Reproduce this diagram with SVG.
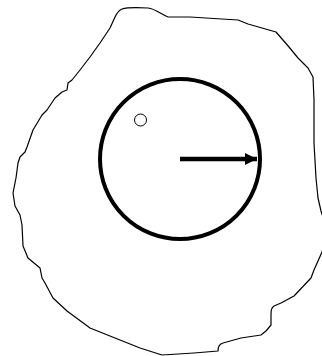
<svg xmlns="http://www.w3.org/2000/svg" width="322" height="356" viewBox="0 0 322 356">
  <style>
    .blob { fill: none; stroke: #000; stroke-width: 1.2; stroke-linejoin: round; }
    .ring { fill: none; stroke: #000; stroke-width: 4; }
    .dot { fill: #fff; stroke: #000; stroke-width: 1; }
    .arrow { stroke: #000; stroke-width: 4.5; fill: none; }
  </style>
  <defs>
    <marker id="ah" markerWidth="4" markerHeight="4" refX="2.7" refY="2" orient="auto" markerUnits="strokeWidth">
      <path d="M0,0.65 L2.7,2 L0,3.35 Z" fill="#000"/>
    </marker>
  </defs>
  <rect width="322" height="356" fill="#fff"/>
  <g id="region">
    <path class="blob" d="M122,9 C128,7 140,7.5 148,8 C156,9 162,15 168,17 L190,17 L238,20 L248,24 L276,32 L289,47 L298,58 L308,68 L313,77 L314,100 L314,143 L316,178 L318,198 L321,211 L328,232 L322,252 L314,270 L311,278 L294,296 L281,303 L274,306 C271,308 271,311 271,316 L271,325 L266,331 L261,335 L241,338 L223,343 C219,344 218,347 218,351 L194,353 L162,355 L140,348 L110,336 L90,328 L67,311 L53,298 L45,283 L42,278 L40,268 L28,258 L23,246 L22,225 L20,215 L15,206 L13,193 L16,178 L18,163 L20,157 L25,152 L27,147 L33,130 L42,115 L47,110 L55,98 L62,92 L67,90 L68,83 L72,80 L80,70 L90,57 L100,43 L110,28 L115,17 C117,13 119,10 122,9 Z"/>
  </g>
  <g id="circle">
    <circle class="ring" cx="180" cy="159" r="80"/>
  </g>
  <g id="point">
    <circle class="dot" cx="140.5" cy="120" r="6"/>
  </g>
  <g id="connectors">
    <line class="arrow" x1="180" y1="159" x2="257" y2="159" marker-end="url(#ah)"/>
  </g>
</svg>
